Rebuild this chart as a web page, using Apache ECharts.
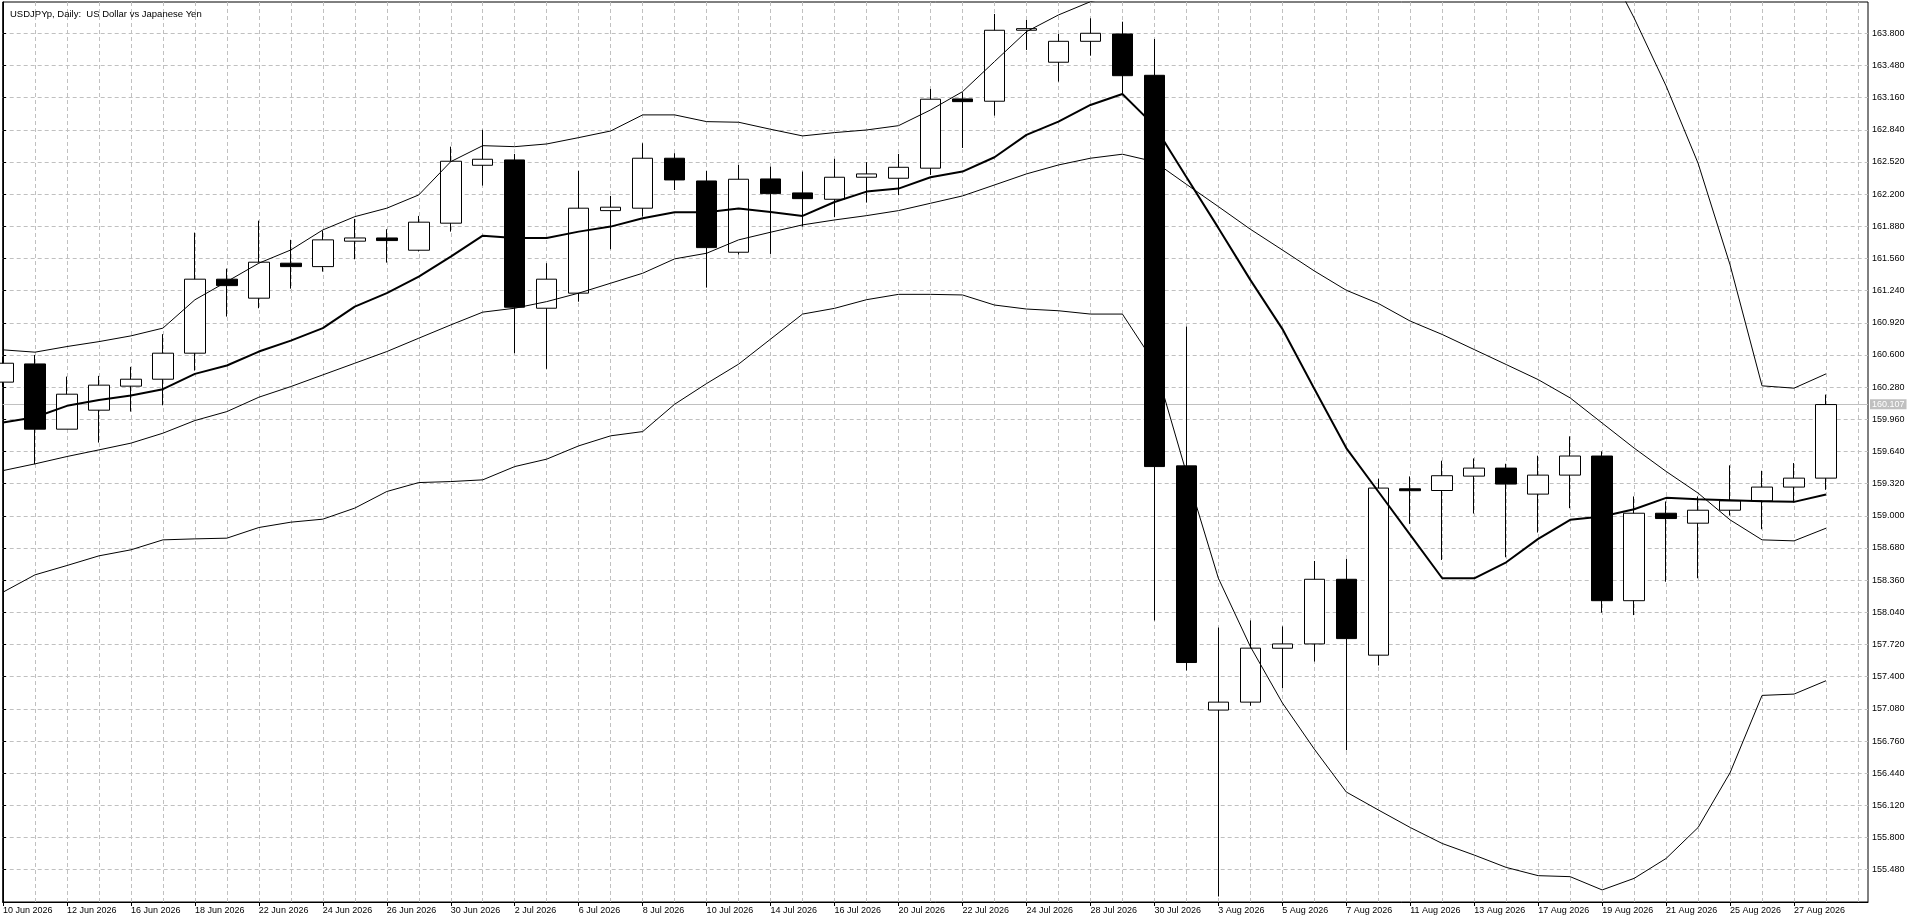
<!DOCTYPE html>
<html><head><meta charset="utf-8">
<script src="https://cdn.jsdelivr.net/npm/echarts@6/dist/echarts.min.js"></script>
<style>html,body{margin:0;padding:0;background:#fff;overflow:hidden}#c{width:1920px;height:923px}</style>
</head><body><div id="c"></div>
<script>
const dates = ['10 Jun 2026','11 Jun 2026','12 Jun 2026','15 Jun 2026','16 Jun 2026','17 Jun 2026','18 Jun 2026','19 Jun 2026','22 Jun 2026','23 Jun 2026','24 Jun 2026','25 Jun 2026','26 Jun 2026','29 Jun 2026','30 Jun 2026',
 '1 Jul 2026','2 Jul 2026','3 Jul 2026','6 Jul 2026','7 Jul 2026','8 Jul 2026','9 Jul 2026','10 Jul 2026','13 Jul 2026','14 Jul 2026','15 Jul 2026','16 Jul 2026','17 Jul 2026','20 Jul 2026','21 Jul 2026','22 Jul 2026','23 Jul 2026','24 Jul 2026','27 Jul 2026','28 Jul 2026','29 Jul 2026','30 Jul 2026','31 Jul 2026',
 '3 Aug 2026','4 Aug 2026','5 Aug 2026','6 Aug 2026','7 Aug 2026','10 Aug 2026','11 Aug 2026','12 Aug 2026','13 Aug 2026','14 Aug 2026','17 Aug 2026','18 Aug 2026','19 Aug 2026','20 Aug 2026','21 Aug 2026','24 Aug 2026','25 Aug 2026','26 Aug 2026','27 Aug 2026','28 Aug 2026'];

const openP = [160.330,160.511,159.862,160.051,160.290,160.359,160.618,161.354,161.165,161.513,161.479,161.732,161.764,161.642,161.911,162.487,162.540,161.065,161.215,162.036,
 162.060,162.557,162.331,161.622,162.351,162.212,162.149,162.368,162.358,162.458,163.147,163.124,163.830,163.512,163.720,163.793,163.382,159.497,157.068,157.147,
 157.683,157.726,158.369,157.614,159.269,159.252,159.395,159.475,159.216,159.405,159.595,158.156,159.026,158.927,159.056,159.149,159.286,159.375];
const closeP = [160.518,159.862,160.210,160.300,160.359,160.618,161.354,161.290,161.523,161.479,161.745,161.764,161.738,161.921,162.527,162.547,161.075,161.354,162.060,162.070,
 162.557,162.341,161.668,162.348,162.205,162.155,162.368,162.401,162.467,163.144,163.120,163.830,163.846,163.720,163.800,163.378,159.490,157.541,157.147,157.684,
 157.726,158.369,157.779,159.276,159.250,159.399,159.475,159.316,159.405,159.595,158.156,159.026,158.973,159.056,159.149,159.286,159.375,160.107];
const highP = [160.580,160.600,160.385,160.392,160.482,160.807,161.817,161.459,161.936,161.745,161.837,161.953,161.851,161.983,162.672,162.840,162.600,161.513,162.431,162.182,
 162.706,162.607,162.430,162.490,162.473,162.424,162.551,162.518,162.600,163.246,163.213,163.992,163.932,163.793,163.949,163.915,163.743,160.882,157.889,157.959,
 157.900,158.551,158.571,159.369,159.392,159.548,159.571,159.518,159.598,159.791,159.641,159.193,159.143,159.193,159.502,159.448,159.525,160.206];
const lowP = [160.280,159.514,159.862,159.729,160.037,160.100,160.445,160.982,161.065,161.260,161.429,161.552,161.519,161.630,161.827,162.285,160.618,160.462,161.130,161.652,
 161.976,162.241,161.270,161.600,161.605,161.877,161.971,162.116,162.190,162.391,162.659,162.981,163.634,163.319,163.577,163.203,157.959,157.462,155.214,157.111,
 157.287,157.551,156.669,157.512,158.920,158.561,159.023,158.588,158.834,159.076,158.037,158.013,158.345,158.379,159.003,158.867,159.133,159.259];

const maLine = [159.928,159.981,160.094,160.153,160.196,160.260,160.412,160.495,160.634,160.743,160.867,161.081,161.215,161.380,161.579,161.787,161.764,161.764,161.827,161.877,
 161.960,162.020,162.020,162.056,162.023,161.983,162.122,162.225,162.255,162.368,162.424,162.567,162.789,162.921,163.087,163.196,162.881,162.371,161.864,161.347,
 160.860,160.265,159.674,159.242,158.811,158.379,158.379,158.538,158.771,158.960,158.993,159.066,159.179,159.166,159.156,159.146,159.139,159.212];
const bbMid = [159.450,159.517,159.590,159.656,159.723,159.822,159.948,160.037,160.180,160.286,160.402,160.518,160.634,160.767,160.899,161.026,161.065,161.131,161.215,161.314,
 161.413,161.556,161.612,161.745,161.821,161.894,161.943,161.986,162.036,162.109,162.182,162.291,162.401,162.490,162.557,162.597,162.523,162.298,162.076,161.851,
 161.645,161.436,161.244,161.113,160.937,160.804,160.654,160.505,160.355,160.173,159.923,159.674,159.442,159.226,158.960,158.761,158.751,158.877];
const bbUpper = [160.651,160.628,160.684,160.733,160.790,160.867,161.149,161.330,161.513,161.645,161.844,161.976,162.060,162.192,162.523,162.682,162.672,162.699,162.762,162.828,
 162.988,162.988,162.921,162.915,162.845,162.779,162.812,162.838,162.881,163.037,163.219,163.518,163.816,163.982,164.114,164.190,164.520,165.170,165.770,166.000,
 166.150,166.190,166.240,166.150,165.970,165.870,165.680,165.510,165.290,164.940,164.570,163.952,163.276,162.507,161.496,160.293,160.270,160.412];
const bbLower = [158.241,158.413,158.506,158.602,158.662,158.761,158.771,158.778,158.884,158.937,158.967,159.077,159.242,159.331,159.341,159.358,159.490,159.564,159.696,159.796,
 159.838,160.110,160.316,160.509,160.758,161.007,161.064,161.150,161.203,161.203,161.197,161.097,161.057,161.040,161.007,161.007,160.522,159.428,158.380,157.700,
 157.140,156.680,156.253,156.075,155.900,155.741,155.626,155.503,155.421,155.411,155.279,155.394,155.592,155.900,156.445,157.214,157.227,157.360];

const priceTicks = [155.48,155.80,156.12,156.44,156.76,157.08,157.40,157.72,158.04,158.36,158.68,159.00,159.32,159.64,159.96,160.28,160.60,160.92,161.24,161.56,161.88,162.20,162.52,162.84,163.16,163.48,163.80];
const bidPrice = 160.107;
const titleText = 'USDJPYp, Daily:  US Dollar vs Japanese Yen';

const FONT = '"Liberation Sans", Arial, sans-serif';
const idx = dates.map((d, i) => i);
const labelIdx = idx.filter(i => i % 2 === 0);
const gridIdx = idx.concat([dates.length]);
const candles = idx.map(i => [i, openP[i], closeP[i], lowP[i], highP[i]]);
const pts = arr => arr.map((v, i) => [i, v]);

const chart = echarts.init(document.getElementById('c'), null, {renderer: 'canvas'});
const lineS = (name, arr, w) => ({
  name, type: 'line', data: pts(arr), symbol: 'none', showSymbol: false, clip: true, silent: true, z: 3,
  lineStyle: {color: '#000', width: w}, animation: false
});
chart.setOption({
  animation: false,
  backgroundColor: '#fff',
  title: {text: titleText, left: 5, top: 4, textStyle: {fontSize: 9.5, fontWeight: 'normal', color: '#000', fontFamily: FONT}},
  grid: {left: 2, right: 52, top: 2, bottom: 21, show: true, borderColor: '#000', borderWidth: 1, backgroundColor: '#fff'},
  xAxis: [{
    type: 'value', min: -0.01, max: 58.3125, position: 'bottom',
    axisLine: {show: true, lineStyle: {color: '#000', width: 1}},
    axisTick: {show: true, length: 4, lineStyle: {color: '#000'}, customValues: labelIdx},
    axisLabel: {show: true, customValues: labelIdx, align: 'left', margin: 4, fontSize: 9, color: '#000', fontFamily: FONT,
      formatter: v => dates[Math.round(v)] || ''},
    splitLine: {show: false}
  }, {
    type: 'value', min: -0.01, max: 58.3125, position: 'top',
    axisLine: {show: false}, axisLabel: {show: false},
    axisTick: {show: false, customValues: gridIdx},
    splitLine: {show: true, lineStyle: {color: '#c0c0c0', width: 1, type: [4, 3]}}
  }],
  yAxis: {
    type: 'value', position: 'right', min: 155.159, max: 164.111, scale: true,
    axisLine: {show: true, lineStyle: {color: '#000', width: 1}},
    axisTick: {show: true, length: 3, lineStyle: {color: '#000'}, customValues: priceTicks},
    axisLabel: {show: true, customValues: priceTicks, margin: 4, fontSize: 9, color: '#000', fontFamily: FONT,
      formatter: v => v.toFixed(3)},
    splitLine: {show: true, lineStyle: {color: '#c0c0c0', width: 1, type: [4, 3]}}
  },
  series: [{
    name: 'USDJPYp', type: 'candlestick', data: candles, barWidth: 21, clip: true, silent: true, z: 2,
    itemStyle: {color: '#ffffff', color0: '#000000', borderColor: '#000000', borderColor0: '#000000', borderWidth: 1},
    markLine: {
      silent: true, symbol: ['none', 'none'], animation: false, z: 1,
      lineStyle: {color: '#c0c0c0', type: 'solid', width: 1},
      label: {show: true, position: 'end', distance: 2, formatter: bidPrice.toFixed(3), color: '#fff',
        backgroundColor: '#c0c0c0', padding: [1, 2, 0, 2], fontSize: 9, fontFamily: FONT},
      data: [{yAxis: bidPrice}]
    }
  },
    lineS('BB Upper', bbUpper, 1),
    lineS('BB Middle', bbMid, 1),
    lineS('BB Lower', bbLower, 1),
    lineS('MA', maLine, 2)
  ]
});
</script>
</body></html>
